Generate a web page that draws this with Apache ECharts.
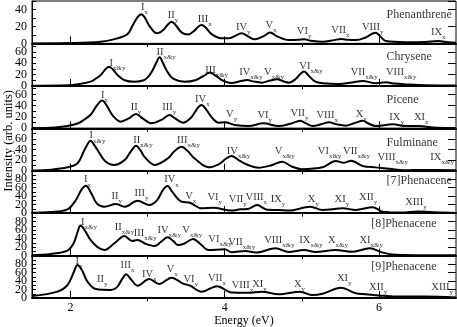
<!DOCTYPE html>
<html>
<head>
<meta charset="utf-8">
<script src="https://cdn.jsdelivr.net/npm/echarts@6/dist/echarts.min.js"></script>
<style>html,body{margin:0;padding:0;background:#fff}#box1{width:457px;height:327px}</style>
</head>
<body>
<div id="box1"></div>
<script>
/* stacked absorption spectra */
var molecules = ['Phenanthrene', 'Chrysene', 'Picene', 'Fulminane', '[7]Phenacene', '[8]Phenacene', '[9]Phenacene'];
var yMax = [50, 75, 75, 80, 100, 100, 100];

var energy1 = [1.5,1.96,2.39,2.61,2.74,2.81,2.87,2.915,2.96,3.02,3.12,3.2,3.26,3.31,3.36,3.44,3.525,3.6,3.66,3.7,3.75,3.83,3.96,4.05,4.15,4.22,4.29,4.39,4.5,4.59,4.68,4.83,4.95,5.03,5.12,5.27,5.42,5.51,5.6,5.7,5.82,5.92,5.96,6.01,6.09,6.35,6.6,6.77,6.9,7.0];
var int1 = [0,0.4,2,6,11,22,31,34.5,31,21,12,15.5,22,25.5,22,13,10.5,14.5,20,21.7,19,11,6,6,9.5,12,9,4.8,8.3,13,8.3,4,4.2,4.8,3.1,2,3.9,5.2,4.2,3.9,6.7,11.7,12.7,9,2.8,1.5,1.7,2.8,1.4,0.9];

var energy2 = [1.5,1.96,2.1,2.26,2.33,2.39,2.45,2.5,2.55,2.61,2.7,2.83,2.95,3.0,3.05,3.11,3.155,3.2,3.26,3.33,3.48,3.62,3.72,3.81,3.88,3.98,4.09,4.2,4.29,4.38,4.48,4.58,4.68,4.76,4.83,4.92,4.98,5.03,5.09,5.17,5.27,5.49,5.65,5.79,5.96,6.09,6.2,6.35,6.6,7.0];
var int2 = [0.2,1,3,7.5,13,19,29,34,29,19,10,7.4,10,15,24,40,50.6,40,24,13,7.4,10,17,23.4,18,9,5,8,10.4,7.5,5.7,9,11.7,8,5.7,12,21,25.2,18,8,4.6,3.3,6,8.7,4.6,6.3,4,2.6,1,0.5];

var energy3 = [1.5,1.8,1.96,2.1,2.17,2.26,2.34,2.41,2.47,2.55,2.65,2.75,2.85,2.93,3.05,3.18,3.285,3.36,3.46,3.57,3.65,3.7,3.76,3.84,3.92,4.0,4.13,4.31,4.5,4.7,4.85,4.98,5.05,5.14,5.25,5.35,5.45,5.57,5.7,5.79,5.87,5.96,6.18,6.35,6.51,6.75,7.0];
var int3 = [0.3,1.5,4,9,14.7,24,40,49,40,22,11.7,17,25.3,18,8.8,15,23.5,17,10,20,36,41.2,33,18,10,10.6,6,4,8.8,4,8,13.5,9,4,7,10.6,7,4.7,10,13.5,8,4,7,4,4,1,0.5];

var energy4 = [1.5,1.75,1.96,2.09,2.17,2.22,2.26,2.3,2.35,2.45,2.57,2.7,2.78,2.85,2.91,2.96,3.09,3.26,3.35,3.44,3.52,3.61,3.79,3.92,4.02,4.09,4.17,4.27,4.44,4.6,4.745,4.87,5.0,5.27,5.44,5.55,5.64,5.79,5.96,6.1,6.35,6.6,7.0];
var int4 = [0.5,2,6.4,14,36,50,56.6,50,39,18,10.8,20,36,47,38,26,10.8,23,37,45,37,23,6.4,12,23,27.7,21,12.6,5.7,10,17,8,3,6.4,18.3,15,18.9,8.8,6.3,4.4,1,1.5,1];

var energy5 = [1.5,1.74,1.96,2.07,2.14,2.2,2.26,2.34,2.44,2.59,2.7,2.87,3.02,3.12,3.2,3.26,3.32,3.44,3.55,3.7,3.85,4.09,4.2,4.3,4.42,4.55,4.7,4.83,5.11,5.27,5.53,5.7,5.92,6.05,6.3,6.5,6.75,7.0];
var int5 = [1,2.6,8.9,31,55,64.7,50,23,15,21.5,15,29,19,30,55,64,50,27,24.5,11.3,12.7,6,9,9.7,19,8,7.5,6,15,7.5,11.4,7.5,14,3.5,1.5,4,2,0.5];

var energy6 = [1.5,1.74,1.96,2.04,2.09,2.13,2.19,2.26,2.35,2.44,2.57,2.7,2.8,2.87,2.97,3.09,3.17,3.26,3.33,3.39,3.47,3.59,3.68,3.79,4.0,4.09,4.27,4.4,4.66,4.83,5.03,5.18,5.44,5.66,5.88,6.05,6.22,6.6,7.0];
var int6 = [1,3.8,11.6,29,55,70.6,58,36.8,20,13.2,29,46,34.4,36.8,28,22.6,32,43,35,25,28,39,28,13.2,14.7,8,10.8,7,17,8.5,13,8.5,13,9,17,7,2,1,1];

var energy7 = [1.5,1.83,1.96,2.04,2.09,2.15,2.22,2.33,2.52,2.6,2.67,2.72,2.78,2.87,3.02,3.15,3.31,3.46,3.55,3.7,3.9,4.09,4.31,4.48,4.7,4.98,5.13,5.27,5.51,5.7,5.83,6.0,6.22,6.6,7.0];
var int7 = [4.5,15,30.6,60,77.8,65,38.5,21,18.9,25,45,55.8,45,29,44.8,33,48,34,29,15,28,13,12.6,15,8.6,15,7,10,24.4,11,9,6,3.5,3.5,1];

// peak annotations: numeral, subscript, energy, height
var peaks1 = [['I','x',2.96,43],['II','y',3.33,33.5],['III','x',3.74,28.8],['IV','y',4.24,19.7],['V','x',4.6,21.7],['VI','y',5.03,14.6],['VII','x',5.5,15.8],['VIII','y',5.92,19.3],['IX','x',6.77,13.4]];
var peaks2 = [['I','x&y',2.61,40.5],['II','x&y',3.24,60],['III','x&y',3.895,28],['IV','x&y',4.34,24.6],['V','x&y',4.64,24.6],['VI','x&y',5.12,35.2],['VII','x&y',5.81,24.6],['VIII','x&y',6.29,24.6]];
var peaks3 = [['I','x',2.44,59],['II','y',2.85,38],['III','y',3.28,38],['IV','x',3.71,53],['V','y',4.09,25.3],['VI','y',4.52,23.5],['VII','y',4.97,27.6],['VIII','x',5.33,23.5],['X','y',5.77,25.3],['IX','y',6.23,20.5],['XI','x',6.55,20.5]];
var peaks4 = [['I','x&y',2.35,67],['II','x&y',2.94,58],['III','x&y',3.53,58],['IV','x&y',4.18,37.7],['V','x&y',4.78,37.7],['VI','x&y',5.36,37.7],['VII','x&y',5.71,37.7],['VIII','x&y',6.18,26.4],['IX','x&y',6.82,26.4]];
var peaks5 = [['I','x',2.22,80],['II','y',2.6,41],['III','y',2.92,48],['IV','x',3.31,80],['V','x',3.56,41],['VI','y',3.87,38.7],['VII','y',4.17,35],['VIII','x',4.41,38.7],['IX','y',4.69,35],['X','y',5.15,35],['XI','y',5.52,35],['XII','y',5.86,38.7],['XIII','y',6.48,27]];
var peaks6 = [['I','x&y',2.24,80],['II','x&y',2.7,68],['III','x&y',2.97,54],['IV','x&y',3.28,60],['V','x&y',3.58,60],['VI','x&y',3.94,40.8],['VII','x&y',4.22,32.8],['VIII','x&y',4.71,36.8],['IX','x&y',5.12,36.8],['X','x&y',5.47,36.8],['XI','x&y',5.9,36.8]];
var peaks7 = [['I','x',2.11,88],['II','y',2.41,46.5],['III','x',2.74,77.8],['IV','x',3.02,58],['V','x',3.32,70],['VI','y',3.56,46.5],['VII','x',3.9,48.8],['VIII','x',4.23,30.7],['XI','y',4.45,34.7],['X','y',4.97,34.7],['XI','y',5.55,48.8],['XII','y',5.99,26.7],['XIII','y',6.82,26.7]];

// where each molecule name sits (energy, height)
var nameSpot = [[6.1,33.5],[6.1,51.7],[6.1,50],[6.1,51.7],[6.1,75.7],[5.9,74.5],[5.9,73.8]];

var energies = [energy1, energy2, energy3, energy4, energy5, energy6, energy7];
var intensities = [int1, int2, int3, int4, int5, int6, int7];
var peakSets = [peaks1, peaks2, peaks3, peaks4, peaks5, peaks6, peaks7];

var dom = document.getElementById('box1');
var myChart = echarts.init(dom);
var serif = 'Liberation Serif';
var top0 = 1, panelH = 42.43;
var grids = [], xAxes = [], yAxes = [], series = [];

for (var i = 0; i < 7; i++) {
    var last = (i === 6);
    grids.push({left: 32, right: 1, top: top0 + i * panelH, height: panelH,
        containLabel: false, outerBoundsMode: 'none',
        show: true, borderColor: '#000', borderWidth: 1, backgroundColor: 'transparent'});
    xAxes.push({
        gridIndex: i, type: 'value', min: 1.5, max: 7,
        axisLine: {show: true, onZero: false, lineStyle: {color: '#000', width: 2}},
        axisTick: {inside: true, length: 7, customValues: [2, 4, 6], lineStyle: {color: '#000'}},
        axisLabel: {show: last, customValues: [2, 4, 6], color: '#000', fontFamily: serif, fontSize: 12, margin: 4},
        splitLine: {show: false},
        name: last ? 'Energy (eV)' : '', nameLocation: 'middle', nameGap: 17,
        nameTextStyle: {color: '#000', fontFamily: serif, fontSize: 12}
    });
    xAxes.push({
        gridIndex: i, type: 'value', min: 1.5, max: 7,
        axisLine: {show: false},
        axisTick: {inside: true, length: 3.5, customValues: [3, 5], lineStyle: {color: '#000'}},
        axisLabel: {show: false}, splitLine: {show: false}
    });
    (function (m) {
        yAxes.push({
            gridIndex: i, type: 'value', min: 0, max: m, interval: 10,
            axisLine: {show: true, lineStyle: {color: '#000', width: 1}},
            axisTick: {inside: true, length: 4, lineStyle: {color: '#000'}},
            axisLabel: {color: '#000', fontFamily: serif, fontSize: 12, margin: 5,
                formatter: function (v) { return (v % 20 === 0 && v < m) ? String(v) : ''; }},
            splitLine: {show: false}
        });
    })(yMax[i]);
    yAxes.push({
        gridIndex: i, type: 'value', min: 0, max: yMax[i], interval: 20,
        axisLine: {show: false},
        axisTick: {inside: true, length: 8, lineStyle: {color: '#000'}},
        axisLabel: {show: false}, splitLine: {show: false}
    });

    var pts = energies[i].map(function (e, j) { return [e, intensities[i][j]]; });
    series.push({
        type: 'line', xAxisIndex: 2 * i, yAxisIndex: 2 * i, data: pts,
        showSymbol: false, smooth: 0.35, silent: true,
        lineStyle: {color: '#000', width: 2}
    });
    series.push({
        type: 'scatter', xAxisIndex: 2 * i, yAxisIndex: 2 * i, symbolSize: 0, silent: true, z: 5,
        data: peakSets[i].map(function (p) { return {value: [p[2], p[3]], roman: p[0], sub: p[1]}; }),
        label: {
            show: true, position: 'inside', offset: [0, 2],
            formatter: function (pr) { return '{n|' + pr.data.roman + '}{s|' + pr.data.sub + '}'; },
            rich: {
                n: {fontFamily: serif, fontSize: 10.5, color: '#000', lineHeight: 14, verticalAlign: 'top'},
                s: {fontFamily: serif, fontSize: 7, color: '#000', lineHeight: 14, verticalAlign: 'bottom'}
            }
        }
    });
    series.push({
        type: 'scatter', xAxisIndex: 2 * i, yAxisIndex: 2 * i, symbolSize: 0, silent: true, z: 5,
        data: [{value: nameSpot[i], name: molecules[i]}],
        label: {show: true, position: 'right', distance: 0, formatter: '{b}',
            color: '#000', fontFamily: serif, fontSize: 12}
    });
}

option = {
    animation: false,
    backgroundColor: '#fff',
    grid: grids,
    xAxis: xAxes,
    yAxis: yAxes,
    graphic: [{
        type: 'text', left: 2, top: 90, rotation: Math.PI / 2,
        style: {text: 'Intensity (arb. units)', fill: '#000', font: '12.5px "Liberation Serif"'}
    }],
    series: series
};
if (option && typeof option === 'object') {
    myChart.setOption(option, true);
}
</script>
</body>
</html>
